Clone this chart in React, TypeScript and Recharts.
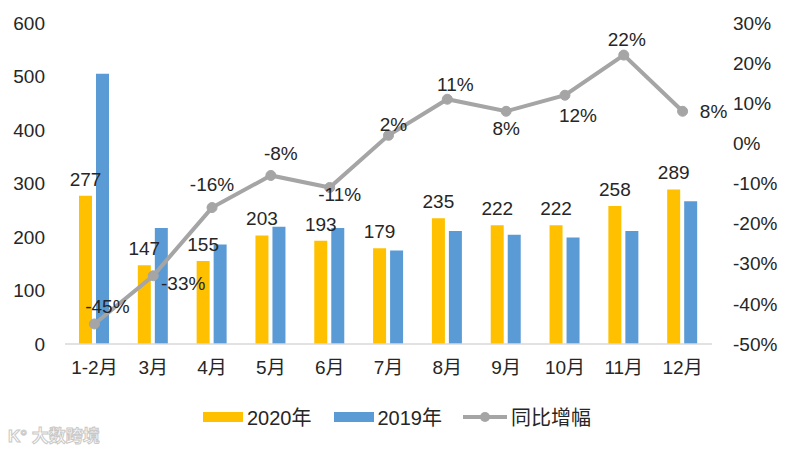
import { ComposedChart, Bar, Line, XAxis, YAxis, LabelList } from 'recharts';

const months = ['1-2月', '3月', '4月', '5月', '6月', '7月', '8月', '9月', '10月', '11月', '12月'];
const sales2020 = [277, 147, 155, 203, 193, 179, 235, 222, 222, 258, 289];
const sales2019 = [505, 217, 186, 219, 217, 175, 211, 204, 199, 211, 267];
const growth = [-45, -33, -16, -8, -11, 2, 11, 8, 12, 22, 8];
const leftTicks = [0, 100, 200, 300, 400, 500, 600];
const rightTicks = [-50, -40, -30, -20, -10, 0, 10, 20, 30];

// label nudges for the growth line
const growthLabelOffset: [number, number][] = [
  [13, -17], [30, 8], [0, -23], [10, -22], [10, 7], [5, -11],
  [8, -15], [0, 17], [13, 20], [3, -16], [31, 0],
];

const data = months.map((m, i) => ({
  month: m,
  y2020: sales2020[i],
  y2019: sales2019[i],
  growth: growth[i],
}));

const YELLOW = '#FFC000';
const BLUE = '#5B9BD5';
const GRAY = '#A5A5A5';
const TEXT = '#262626';
const FONT = '"Liberation Sans", "Noto Sans CJK SC", sans-serif';
const FS = 19;

const GrowthLabel = (props: any) => {
  const { x, y, value, index } = props;
  const [dx, dy] = growthLabelOffset[index] || [0, -15];
  return (
    <text
      x={x + dx}
      y={y + dy}
      textAnchor="middle"
      dominantBaseline="central"
      fontSize={FS}
      fill={TEXT}
      fontFamily={FONT}
    >
      {value}%
    </text>
  );
};

export default function App() {
  return (
    <div style={{ position: 'absolute', left: 0, top: 0, width: 789, height: 450, background: '#fff', fontFamily: FONT }}>
      <ComposedChart
        width={789}
        height={450}
        data={data}
        margin={{ top: 23, right: 0, bottom: 66, left: 0 }}
        barGap={4}
        barCategoryGap={16}
      >
        <XAxis
          dataKey="month"
          height={40}
          tickLine={false}
          axisLine={{ stroke: '#D9D9D9', strokeWidth: 1.5 }}
          tickSize={0}
          tickMargin={17}
          tick={{ fontSize: FS, fill: TEXT, fontFamily: FONT }}
          interval={0}
        />
        <YAxis
          yAxisId="left"
          width={65}
          domain={[0, 600]}
          ticks={leftTicks}
          axisLine={false}
          tickLine={false}
          tickSize={0}
          tickMargin={20}
          tick={{ fontSize: FS, fill: TEXT, fontFamily: FONT }}
        />
        <YAxis
          yAxisId="right"
          orientation="right"
          width={77}
          domain={[-50, 30]}
          ticks={rightTicks}
          axisLine={false}
          tickLine={false}
          tickSize={0}
          tickMargin={21}
          tickFormatter={(v) => `${v}%`}
          tick={{ fontSize: FS, fill: TEXT, fontFamily: FONT, textAnchor: 'start' }}
        />
        <Bar yAxisId="left" dataKey="y2020" fill={YELLOW} barSize={13} isAnimationActive={false}>
          <LabelList dataKey="y2020" position="top" offset={10} fontSize={FS} fill={TEXT} fontFamily={FONT} />
        </Bar>
        <Bar yAxisId="left" dataKey="y2019" fill={BLUE} barSize={13} isAnimationActive={false} />
        <Line
          yAxisId="right"
          dataKey="growth"
          stroke={GRAY}
          strokeWidth={4}
          dot={{ r: 5, fill: GRAY, stroke: GRAY, strokeWidth: 1 }}
          activeDot={false}
          isAnimationActive={false}
        >
          <LabelList dataKey="growth" content={GrowthLabel} />
        </Line>
      </ComposedChart>

      {/* legend */}
      <div style={{ position: 'absolute', top: 402, left: 203, display: 'flex', alignItems: 'center', fontSize: 20, color: TEXT, whiteSpace: 'nowrap' }}>
        <span style={{ display: 'inline-block', width: 40, height: 10, background: YELLOW, marginRight: 4 }} />
        <span style={{ marginRight: 22 }}>2020年</span>
        <span style={{ display: 'inline-block', width: 40, height: 10, background: BLUE, marginRight: 4 }} />
        <span style={{ marginRight: 21 }}>2019年</span>
        <svg width={44} height={12} style={{ marginRight: 4 }}>
          <line x1={0} y1={6} x2={44} y2={6} stroke={GRAY} strokeWidth={4} />
          <circle cx={22} cy={6} r={5} fill={GRAY} />
        </svg>
        <span>同比增幅</span>
      </div>

      {/* watermark */}
      <div style={{ position: 'absolute', left: 8, top: 422, fontSize: 17, color: '#fff', WebkitTextStroke: '1px #C8C8C8', fontWeight: 700, whiteSpace: 'nowrap' }}>
        K° 大数跨境
      </div>
    </div>
  );
}
